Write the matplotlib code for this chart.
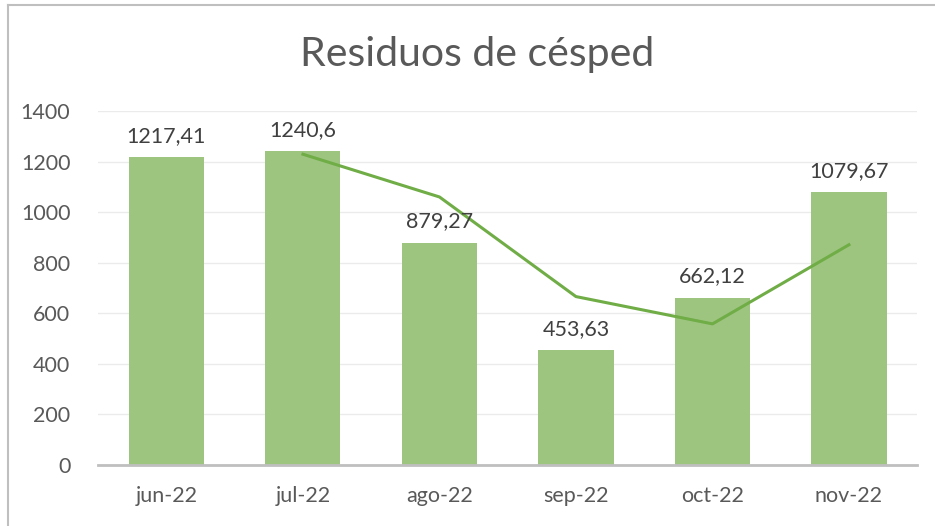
import matplotlib
matplotlib.use("Agg")
import matplotlib.pyplot as plt
from matplotlib.lines import Line2D

plt.rcParams['font.family'] = ['Lato', 'DejaVu Sans']

meses = ['jun-22', 'jul-22', 'ago-22', 'sep-22', 'oct-22', 'nov-22']
residuos = [1217.41, 1240.6, 879.27, 453.63, 662.12, 1079.67]
etiquetas = ['1217,41', '1240,6', '879,27', '453,63', '662,12', '1079,67']
# media movil de 2 periodos (linea de tendencia)
media_movil = [1229, 1060, 666, 558, 871]

fig = plt.figure(figsize=(9.35, 5.26), dpi=100)
ax = fig.add_axes([0.105, 0.116, 0.876, 0.673])

x = range(len(meses))
ax.bar(x, residuos, width=0.55, color='#9DC57F', zorder=2)
ax.plot(list(x)[1:], media_movil, color='#70AD47', lw=2.2, zorder=3)

for i, (v, t) in enumerate(zip(residuos, etiquetas)):
    ax.text(i, v + 45, t, ha='center', va='bottom', fontsize=15.5, color='#404040', zorder=4)

ax.set_xlim(-0.5, 5.5)
ax.set_ylim(0, 1400)
ax.set_yticks(range(0, 1401, 200))
ax.set_xticks(list(x))
ax.set_xticklabels(meses)
ax.tick_params(axis='both', length=0, labelsize=15.5, labelcolor='#595959')
ax.tick_params(axis='x', pad=15)
ax.tick_params(axis='y', pad=20)
ax.grid(axis='y', color='#EBEBEB', lw=1, zorder=0)
for s in ['top', 'right', 'left']:
    ax.spines[s].set_visible(False)
ax.spines['bottom'].set_color('#BFBFBF')
ax.spines['bottom'].set_linewidth(2)
ax.spines['bottom'].set_zorder(3)

fig.text(0.510, 0.897, 'Residuos de césped', ha='center', va='center', fontsize=29.5, color='#595959')

# marco del grafico (solo visible arriba e izquierda)
fig.add_artist(Line2D([0.009, 1.0], [0.991, 0.991], color='#BFBFBF', lw=1.5))
fig.add_artist(Line2D([0.009, 0.009], [0.0, 0.991], color='#BFBFBF', lw=1.5))

fig.savefig('out.png', dpi=100)
